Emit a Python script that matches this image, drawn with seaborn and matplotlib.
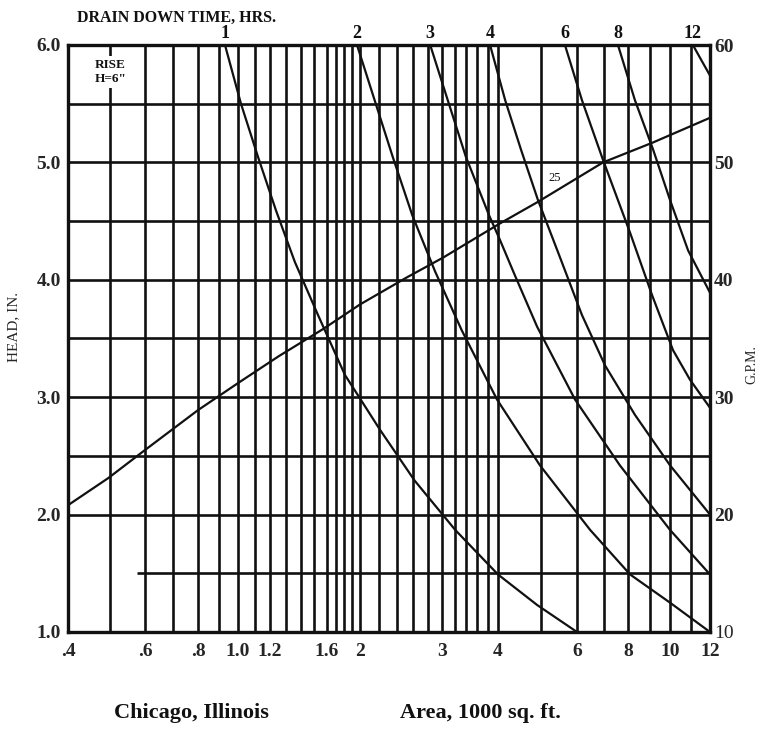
import numpy as np
import pandas as pd
import seaborn as sns
import matplotlib.pyplot as plt
from matplotlib.ticker import NullFormatter

# drain down time curves: area (1000 sq ft) vs head (in)
hours = ["1", "2", "3", "4", "6", "8", "12"]
area_1 = [0.93, 1.017, 1.12, 1.237, 1.361, 1.529, 1.806, 2.21, 2.62, 3.21, 4.0, 4.89, 6.0]
head_1 = [6.0, 5.5, 5.05, 4.59, 4.15, 3.70, 3.19, 2.72, 2.29, 1.87, 1.49, 1.23, 1.0]
area_2 = [1.96, 2.15, 2.35, 2.59, 2.90, 3.32, 3.98, 4.96, 6.46, 8.09, 10.0, 12.0]
head_2 = [6.0, 5.53, 5.05, 4.55, 4.07, 3.57, 2.98, 2.42, 1.87, 1.49, 1.25, 1.0]
area_3 = [2.83, 3.09, 3.39, 3.82, 4.04, 4.36, 4.89, 5.94, 7.64, 10.0, 12.0]
head_3 = [6.0, 5.53, 5.05, 4.55, 4.34, 4.04, 3.60, 2.98, 2.42, 1.87, 1.49]
area_4 = [3.84, 4.15, 4.50, 4.91, 5.50, 6.17, 7.03, 8.30, 10.0, 12.0]
head_4 = [6.0, 5.53, 5.11, 4.68, 4.19, 3.70, 3.27, 2.85, 2.42, 2.0]
area_6 = [5.64, 6.17, 6.95, 8.09, 9.09, 10.14, 10.95, 12.0]
head_6 = [6.0, 5.53, 5.02, 4.40, 3.87, 3.40, 3.15, 2.91]
area_8 = [7.56, 8.30, 9.14, 10.0, 10.86, 12.0]
head_8 = [6.0, 5.53, 5.11, 4.68, 4.25, 3.89]
area_12 = [11.1, 11.47, 12.0]
head_12 = [6.0, 5.89, 5.74]

# rising curve labelled 25
area_25 = [0.4, 0.494, 0.6, 0.8, 1.0, 1.255, 1.568, 2.0, 2.52, 3.02, 4.04, 4.89, 6.95, 9.14, 12.0]
head_25 = [2.08, 2.31, 2.55, 2.89, 3.12, 3.35, 3.58, 3.79, 4.02, 4.19, 4.48, 4.66, 5.00, 5.17, 5.38]

# axis ticks
x_major = [0.4, 0.6, 0.8, 1.0, 1.2, 1.6, 2, 3, 4, 6, 8, 10, 12]
x_major_labels = [".4", ".6", ".8", "1.0", "1.2", "1.6", "2", "3", "4", "6", "8", "10", "12"]
x_minor = [0.5, 0.7, 0.9, 1.1, 1.3, 1.4, 1.5, 1.7, 1.8, 1.9, 2.2, 2.4, 2.6, 2.8,
           3.2, 3.4, 3.6, 3.8, 5, 7, 9, 11]
y_major = [1, 2, 3, 4, 5, 6]
y_major_labels = ["1.0", "2.0", "3.0", "4.0", "5.0", "6.0"]
y_minor = [2.5, 3.5, 4.5, 5.5]
gpm_ticks = [10, 20, 30, 40, 50, 60]

areas = [area_1, area_2, area_3, area_4, area_6, area_8, area_12]
heads = [head_1, head_2, head_3, head_4, head_6, head_8, head_12]
frames = []
for h, a, hd in zip(hours, areas, heads):
    frames.append(pd.DataFrame({"hours": h, "area": a, "head": hd}))
df = pd.concat(frames, ignore_index=True)

# the printed log paper is not quite a true log scale, so follow its rulings
paper_v = np.log([0.01, 0.4, 0.6, 0.8, 1.0, 1.2, 1.6, 2.0, 3.0, 4.0, 6.0, 8.0, 10.0, 12.0, 1000.0])
paper_p = np.array([-627.0, 68, 145, 198, 238, 270, 327, 360, 442, 498, 577, 628, 670, 710, 1544])


def paper_fwd(v):
    v = np.clip(np.asarray(v, dtype=float), 1e-4, None)
    return np.interp(np.log(v), paper_v, paper_p)


def paper_inv(p):
    return np.exp(np.interp(np.asarray(p, dtype=float), paper_p, paper_v))


sns.set_theme(style="white")
plt.rcParams["font.family"] = ["Liberation Serif", "DejaVu Serif"]

ink = "#111111"
fig = plt.figure(figsize=(7.61, 7.29), dpi=100)
ax = fig.add_axes([68 / 761, 1 - 632 / 729, 642 / 761, 587 / 729])

sns.lineplot(data=df, x="area", y="head", units="hours", estimator=None,
             sort=False, color=ink, lw=1.6, ax=ax, legend=False, zorder=3)
sns.lineplot(x=area_25, y=head_25, color=ink, lw=1.6, ax=ax, sort=False, zorder=3)

ax.set_xscale("function", functions=(paper_fwd, paper_inv))
ax.set_xlim(0.4, 12)
ax.set_ylim(1, 6)
ax.set_xticks(x_major)
ax.set_xticklabels(x_major_labels, fontweight="bold")
ax.set_xticks(x_minor, minor=True)
ax.xaxis.set_minor_formatter(NullFormatter())
ax.set_yticks(y_major)
ax.set_yticklabels(y_major_labels, fontweight="bold")
ax.set_yticks(y_minor, minor=True)
ax.yaxis.set_minor_formatter(NullFormatter())
ax.tick_params(which="both", length=0, labelsize=14)
ax.tick_params(axis="x", pad=8)
ax.tick_params(axis="y", pad=5)

ax.set_axisbelow(True)
ax.grid(which="both", axis="both", color=ink, lw=1.9)
ax.hlines(1.5, 0.575, 12, color=ink, lw=1.9, zorder=2)
for s in ax.spines.values():
    s.set_color(ink)
    s.set_linewidth(2.4)
    s.set_visible(True)

ax.set_xlabel("")
ax.set_ylabel("HEAD, IN.", fontsize=11)
ax.yaxis.set_label_coords(-0.075, 0.52)

# right axis in gpm
ax2 = ax.twinx()
ax2.set_ylim(10, 60)
ax2.set_yticks(gpm_ticks)
ax2.set_yticklabels([str(v) for v in gpm_ticks], fontweight="bold")
ax2.get_yticklabels()[0].set_fontweight("normal")
ax2.tick_params(length=0, labelsize=14, pad=3)
ax2.grid(False)
for s in ax2.spines.values():
    s.set_visible(False)
ax2.set_ylabel("G.P.M.", fontsize=10, rotation=90)
ax2.yaxis.set_label_coords(1.055, 0.455)

# drain time labels along the top
for h, a in zip(hours, areas):
    ax.annotate(h, xy=(a[0], 1.0), xycoords=("data", "axes fraction"),
                xytext=(0, 2), textcoords="offset points", ha="center",
                va="bottom", fontsize=13, fontweight="bold", color=ink)

ax.text(0.5, 5.77, 'RISE\nH=6"', ha="center", va="center", fontsize=9.5,
        fontweight="bold", color=ink, linespacing=1.2,
        bbox=dict(fc="white", ec="none", pad=2), zorder=5)
ax.text(5.35, 4.87, "25", ha="center", va="center", fontsize=9, color=ink, zorder=5)

fig.text(77 / 761, 1 - 22 / 729, "DRAIN DOWN TIME, HRS.", ha="left", va="baseline",
         fontsize=11.5, fontweight="bold", color=ink)
fig.text(0.252, 0.015, "Chicago, Illinois", ha="center", va="baseline",
         fontsize=16, fontweight="bold", color=ink)
fig.text(0.631, 0.015, "Area, 1000 sq. ft.", ha="center", va="baseline",
         fontsize=16, fontweight="bold", color=ink)

fig.savefig("out.png", dpi=100)
